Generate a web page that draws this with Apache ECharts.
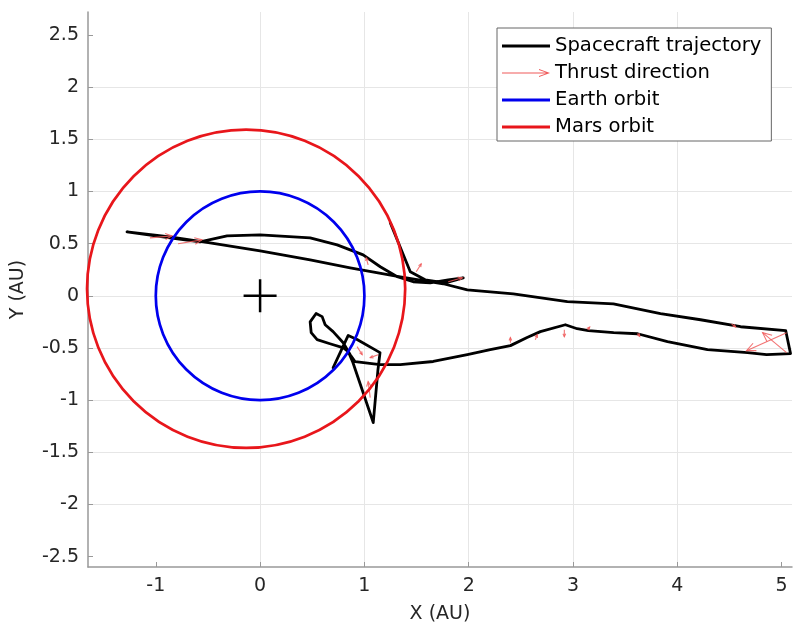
<!DOCTYPE html>
<html>
<head>
<meta charset="utf-8">
<script src="https://cdn.jsdelivr.net/npm/echarts@6/dist/echarts.min.js"></script>
<style>
html,body{margin:0;padding:0;background:#fff;}
#chart{width:795px;height:633px;}
</style>
</head>
<body>
<div id="chart"></div>
<script>
// ---- data ----
const xTicks = [-1, 0, 1, 2, 3, 4, 5];
const yTicks = [-2.5, -2, -1.5, -1, -0.5, 0, 0.5, 1, 1.5, 2, 2.5];

const trajectory = [
  [0.70,-0.69],[0.77,-0.54],[0.845,-0.38],[0.93,-0.42],[1.15,-0.545],[1.13,-0.71],
  [1.085,-1.215],[0.89,-0.64],[0.845,-0.535],[0.80,-0.50],[0.67,-0.46],[0.547,-0.42],
  [0.49,-0.354],[0.48,-0.25],[0.537,-0.17],[0.595,-0.20],[0.624,-0.278],[0.70,-0.344],
  [0.797,-0.45],[0.864,-0.565],[0.912,-0.632],[1.15,-0.66],[1.344,-0.66],[1.66,-0.63],
  [1.987,-0.565],[2.207,-0.517],[2.40,-0.478],[2.56,-0.40],[2.687,-0.344],[2.927,-0.278],
  [3.04,-0.316],[3.148,-0.335],[3.39,-0.354],[3.62,-0.364],[3.906,-0.44],[4.29,-0.517],
  [4.674,-0.545],[4.856,-0.565],[5.086,-0.555],[5.04,-0.335],[4.607,-0.297],[4.223,-0.23],
  [3.839,-0.172],[3.388,-0.077],[2.946,-0.057],[2.428,0.019],[1.987,0.057],[1.756,0.115],
  [1.344,0.182],[0.864,0.268],[0.48,0.344],[0,0.43],[-0.48,0.507],[-0.864,0.565],
  [-1.276,0.612],[-0.864,0.555],[-0.576,0.517],[-0.317,0.574],[0,0.584],[0.48,0.555],
  [0.739,0.488],[0.988,0.392],[1.152,0.278],[1.315,0.182],[1.468,0.134],[1.631,0.124],
  [1.804,0.153],[1.948,0.172],[1.775,0.124],[1.583,0.153],[1.44,0.23],[1.248,0.699]
];

// thrust arrows: [x0, y0, x1, y1]
const thrust = [
  [-1.056,0.555,-0.845,0.574],
  [-0.787,0.498,-0.557,0.536],
  [1.036,0.297,1.017,0.364],
  [1.497,0.23,1.545,0.306],
  [1.804,0.134,1.939,0.172],
  [2.40,-0.45,2.40,-0.40],
  [2.639,-0.421,2.658,-0.373],
  [2.917,-0.325,2.917,-0.392],
  [3.14,-0.325,3.16,-0.30],
  [3.62,-0.36,3.64,-0.39],
  [4.52,-0.27,4.56,-0.30],
  [5.048,-0.354,4.664,-0.526],
  [5.048,-0.545,4.818,-0.354],
  [0.93,-0.488,0.979,-0.565],
  [1.132,-0.565,1.056,-0.593],
  [1.056,-0.976,1.036,-0.823]
];

// orbits: [centerX, centerY, radius]
const earthOrbit = [[0, 0, 1]];
const marsOrbit = [[-0.134, 0.067, 1.525]];
const sunMarker = [[0, 0]];

// ---- chart ----
const FONT = 'DejaVu Sans';
const anchor = 'M0,0 L0.01,0 L0,0.01 Z M48,12 L47.99,12 L48,11.99 Z ';
const lineIcon = 'path://' + anchor + 'M0,4.6 L48,4.6 L48,7.4 L0,7.4 Z';
const arrowIcon = 'path://' + anchor + 'M0,5.5 L46,5.5 L46,6.5 L0,6.5 Z M37,2 L48,6 L37,10 L37,9 L45.5,6 L37,3 Z';

function orbitRender(color) {
  return function (params, api) {
    const c = api.coord([api.value(0), api.value(1)]);
    const s = api.size([api.value(2), api.value(2)]);
    return {
      type: 'circle',
      shape: { cx: c[0], cy: c[1], r: (s[0] + s[1]) / 2 },
      style: { fill: 'none', stroke: color, lineWidth: 2.7 }
    };
  };
}

const chart = echarts.init(document.getElementById('chart'), null, { renderer: 'canvas' });
chart.setOption({
  animation: false,
  backgroundColor: '#fff',
  grid: { left: 88, top: 12, width: 704, height: 555, containLabel: false, outerBoundsMode: 'none' },
  xAxis: {
    type: 'value', min: -1.65, max: 5.1,
    name: 'X (AU)', nameLocation: 'middle', nameGap: 38,
    nameTextStyle: { fontFamily: FONT, fontSize: 19, color: '#262626' },
    axisLine: { show: true, onZero: false, lineStyle: { color: '#999', width: 1.5 } },
    axisTick: { show: true, inside: true, length: 5, customValues: xTicks, lineStyle: { color: '#999' } },
    axisLabel: { customValues: xTicks, fontFamily: FONT, fontSize: 19, color: '#262626', margin: 10 },
    splitLine: { show: true, customValues: xTicks, showMinLine: false, showMaxLine: false, lineStyle: { color: '#e6e6e6', width: 1 } }
  },
  yAxis: {
    type: 'value', min: -2.6, max: 2.72,
    name: 'Y (AU)', nameLocation: 'middle', nameGap: 60, nameRotate: 90,
    nameTextStyle: { fontFamily: FONT, fontSize: 19, color: '#262626' },
    axisLine: { show: true, onZero: false, lineStyle: { color: '#999', width: 1.5 } },
    axisTick: { show: true, inside: true, length: 5, customValues: yTicks, lineStyle: { color: '#999' } },
    axisLabel: { customValues: yTicks, fontFamily: FONT, fontSize: 19, color: '#262626', margin: 9 },
    splitLine: { show: true, customValues: yTicks, showMinLine: false, showMaxLine: false, lineStyle: { color: '#e6e6e6', width: 1 } }
  },
  legend: {
    orient: 'vertical', left: 497, top: 28,
    padding: [8, 10, 4, 5],
    itemWidth: 48, itemHeight: 12, itemGap: 7,
    borderColor: '#666', borderWidth: 1, backgroundColor: '#fff',
    textStyle: { fontFamily: FONT, fontSize: 19.6, color: '#000', lineHeight: 20 },
    itemStyle: { borderWidth: 0 },
    selectedMode: false,
    data: [
      { name: 'Spacecraft trajectory', icon: lineIcon, itemStyle: { color: '#000', borderWidth: 0 } },
      { name: 'Thrust direction', icon: arrowIcon, itemStyle: { color: '#f05a5a', borderWidth: 0 } },
      { name: 'Earth orbit', icon: lineIcon, itemStyle: { color: '#0000ee', borderWidth: 0 } },
      { name: 'Mars orbit', icon: lineIcon, itemStyle: { color: '#e8161b', borderWidth: 0 } }
    ]
  },
  series: [
    {
      name: 'Spacecraft trajectory', type: 'line', data: trajectory,
      showSymbol: false, symbol: 'none', smooth: false, clip: true,
      lineStyle: { color: '#000', width: 2.8, join: 'round', cap: 'round' },
      itemStyle: { color: '#000' }, z: 2
    },
    {
      name: 'Thrust direction', type: 'custom', data: thrust,
      encode: { x: [0, 2], y: [1, 3] },
      itemStyle: { color: '#f05a5a' },
      renderItem: function (params, api) {
        const p0 = api.coord([api.value(0), api.value(1)]);
        const p1 = api.coord([api.value(2), api.value(3)]);
        const dx = p1[0] - p0[0], dy = p1[1] - p0[1];
        const len = Math.sqrt(dx * dx + dy * dy) || 1;
        const ux = dx / len, uy = dy / len;
        const h = Math.max(3, Math.min(9, len * 0.3));
        const w = h * 0.45;
        const bx = p1[0] - ux * h, by = p1[1] - uy * h;
        const st = { stroke: '#f05a5a', lineWidth: 1.1, fill: 'none', opacity: 0.85 };
        return {
          type: 'group',
          children: [
            { type: 'line', shape: { x1: p0[0], y1: p0[1], x2: p1[0], y2: p1[1] }, style: st },
            { type: 'polyline', shape: { points: [[bx - uy * w, by + ux * w], p1, [bx + uy * w, by - ux * w]] }, style: st }
          ]
        };
      },
      z: 3
    },
    {
      name: 'Earth orbit', type: 'custom', data: earthOrbit,
      encode: { x: 0, y: 1 }, itemStyle: { color: '#0000ee' },
      renderItem: orbitRender('#0000ee'), z: 4
    },
    {
      name: 'Mars orbit', type: 'custom', data: marsOrbit,
      encode: { x: 0, y: 1 }, itemStyle: { color: '#e8161b' },
      renderItem: orbitRender('#e8161b'), z: 5
    },
    {
      name: 'Sun', type: 'custom', data: sunMarker,
      encode: { x: 0, y: 1 },
      renderItem: function (params, api) {
        const c = api.coord([api.value(0), api.value(1)]);
        const r = 16.5;
        const st = { stroke: '#000', lineWidth: 2.5 };
        return {
          type: 'group',
          children: [
            { type: 'line', shape: { x1: c[0] - r, y1: c[1], x2: c[0] + r, y2: c[1] }, style: st },
            { type: 'line', shape: { x1: c[0], y1: c[1] - r, x2: c[0], y2: c[1] + r }, style: st }
          ]
        };
      },
      z: 6
    }
  ]
});
</script>
</body>
</html>
